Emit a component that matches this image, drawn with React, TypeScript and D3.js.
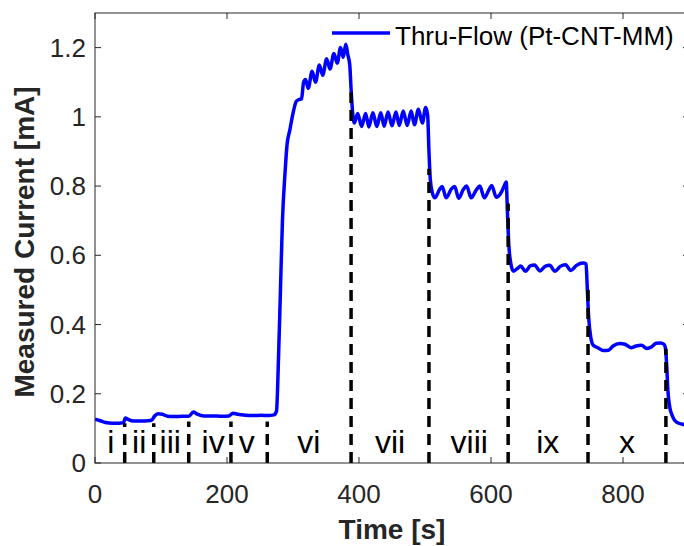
import React from "react";
import * as d3 from "d3";

const timeS = [
  0, 8, 16, 26, 36, 43, 46, 50, 58, 70, 80, 86, 90, 96, 102, 110, 120, 132, 142, 149, 155, 165, 178, 192, 203, 209, 216, 228, 240, 252, 262, 271,
  275, 278, 281, 284, 288, 291, 295, 300, 305, 309, 313, 316, 319, 323, 329, 334, 340, 345, 351, 356, 362, 367, 372, 376, 380, 383, 386, 388, 390,
  393, 398, 404, 410, 415, 421, 427, 433, 438, 444, 450, 456, 461, 467, 473, 479, 484, 490, 496, 501, 504, 506, 508,
  511, 515, 522, 526, 532, 540, 545, 551, 558, 563, 570, 578, 583, 590, 597, 601, 608, 615, 620, 623, 625, 627,
  630, 634, 640, 645, 652, 660, 666, 674, 682, 689, 697, 705, 713, 721, 729, 736, 741, 744, 746, 748, 751,
  755, 762, 770, 778, 785, 795, 803, 812, 820, 828, 836, 843, 850, 857, 862, 864, 866, 868, 871, 875, 881, 890, 900,
];
const currentMA = [
  0.127, 0.122, 0.117, 0.115, 0.115, 0.116, 0.13, 0.126, 0.121, 0.121, 0.122, 0.124, 0.135, 0.142, 0.141, 0.135, 0.134, 0.135, 0.135, 0.147, 0.141, 0.136, 0.136, 0.135, 0.136, 0.144, 0.141, 0.138, 0.137, 0.138, 0.137, 0.139,
  0.15, 0.3, 0.5, 0.7, 0.84, 0.92, 0.96, 1.01, 1.045, 1.05, 1.052, 1.1, 1.108, 1.082, 1.132, 1.1, 1.15, 1.12, 1.168, 1.138, 1.183, 1.155, 1.2, 1.172, 1.21, 1.18, 1.15, 1.08, 1.02,
  0.982, 1.01, 0.972, 1.01, 0.971, 1.012, 0.972, 1.012, 0.973, 1.014, 0.974, 1.014, 0.975, 1.017, 0.975, 1.017, 0.977, 1.022, 0.982, 1.027, 1.005, 0.9, 0.82,
  0.782, 0.766, 0.79, 0.799, 0.766, 0.792, 0.799, 0.765, 0.79, 0.8, 0.766, 0.79, 0.8, 0.766, 0.79, 0.802, 0.768, 0.78, 0.8, 0.812, 0.72, 0.63,
  0.577, 0.554, 0.562, 0.569, 0.554, 0.57, 0.572, 0.555, 0.568, 0.571, 0.554, 0.568, 0.573, 0.556, 0.57, 0.577, 0.578, 0.575, 0.5, 0.42, 0.365,
  0.34, 0.333, 0.325, 0.326, 0.338, 0.345, 0.343, 0.333, 0.338, 0.34, 0.331, 0.335, 0.346, 0.347, 0.343, 0.335, 0.29, 0.21, 0.16, 0.135, 0.118, 0.112, 0.11,
];

const boundaryTimes = [45, 89, 142, 206, 261, 388, 506, 626, 747, 865];
const boundaryTops = [0.115, 0.115, 0.12, 0.12, 0.12, 1.07, 0.85, 0.75, 0.5, 0.33];

const regionLabels = ["i", "ii", "iii", "iv", "v", "vi", "vii", "viii", "ix", "x"];
const regionTimes = [24, 67, 114, 179, 230, 324, 447, 567, 686, 806];

const xTicks = [0, 200, 400, 600, 800];
const yTicks = [0, 0.2, 0.4, 0.6, 0.8, 1, 1.2];

const legendLabel = "Thru-Flow (Pt-CNT-MM)";
const xLabel = "Time [s]";
const yLabel = "Measured Current [mA]";

export default function App() {
  const W = 684;
  const H = 546;
  const left = 95, right = 689, top = 13, bottom = 463;
  const x = d3.scaleLinear().domain([0, 900]).range([left, right]);
  const y = d3.scaleLinear().domain([0, 1.3]).range([bottom, top]);
  const pts: [number, number][] = timeS.map((t, i) => [t, currentMA[i]]);
  const line = d3
    .line<[number, number]>()
    .x((d) => x(d[0]))
    .y((d) => y(d[1]))
    .curve(d3.curveMonotoneX);
  const axisColor = "#262626";
  const font = "'Liberation Sans', Arial, Helvetica, sans-serif";
  const tickLen = 6;
  return (
    <svg
      width={W}
      height={H}
      style={{ position: "absolute", left: 0, top: 0, background: "#fff" }}
      fontFamily={font}
    >
      <rect x={0} y={0} width={W} height={H} fill="#fff" />
      <defs>
        <clipPath id="plot">
          <rect x={left} y={top} width={right - left} height={bottom - top} />
        </clipPath>
      </defs>
      <g clipPath="url(#plot)">
        <path d={line(pts) || ""} fill="none" stroke="#0000ff" strokeWidth={3.5} strokeLinejoin="round" />
        {boundaryTimes.map((t, i) => (
          <line
            key={i}
            x1={x(t)}
            x2={x(t)}
            y1={y(0)}
            y2={y(boundaryTops[i])}
            stroke="#000"
            strokeWidth={3.5}
            strokeDasharray="11 7"
          />
        ))}
      </g>
      {regionLabels.map((s, i) => (
        <text key={s} x={x(regionTimes[i])} y={453} fontSize={32} textAnchor="middle" fill="#000">
          {s}
        </text>
      ))}
      <rect x={left} y={top} width={right - left} height={bottom - top} fill="none" stroke={axisColor} strokeWidth={1} />
      {xTicks.map((t) => (
        <g key={"x" + t}>
          <line x1={x(t)} x2={x(t)} y1={bottom} y2={bottom - tickLen} stroke={axisColor} />
          <line x1={x(t)} x2={x(t)} y1={top} y2={top + tickLen} stroke={axisColor} />
          <text x={x(t)} y={503} fontSize={26} textAnchor="middle" fill={axisColor}>
            {String(t)}
          </text>
        </g>
      ))}
      {yTicks.map((v) => (
        <g key={"y" + v}>
          <line x1={left} x2={left + tickLen} y1={y(v)} y2={y(v)} stroke={axisColor} />
          <line x1={right} x2={right - tickLen} y1={y(v)} y2={y(v)} stroke={axisColor} />
          <text x={86} y={y(v) + 9} fontSize={26} textAnchor="end" fill={axisColor}>
            {String(v)}
          </text>
        </g>
      ))}
      <text x={(left + right) / 2} y={539} fontSize={28} fontWeight="bold" textAnchor="middle" fill={axisColor}>
        {xLabel}
      </text>
      <text
        transform={`translate(34, ${(top + bottom) / 2 + 4}) rotate(-90)`}
        fontSize={28}
        fontWeight="bold"
        textAnchor="middle"
        fill={axisColor}
      >
        {yLabel}
      </text>
      <line x1={332} x2={390} y1={33} y2={33} stroke="#0000ff" strokeWidth={3.5} />
      <text x={395} y={45} fontSize={26} fill="#000">
        {legendLabel}
      </text>
    </svg>
  );
}
